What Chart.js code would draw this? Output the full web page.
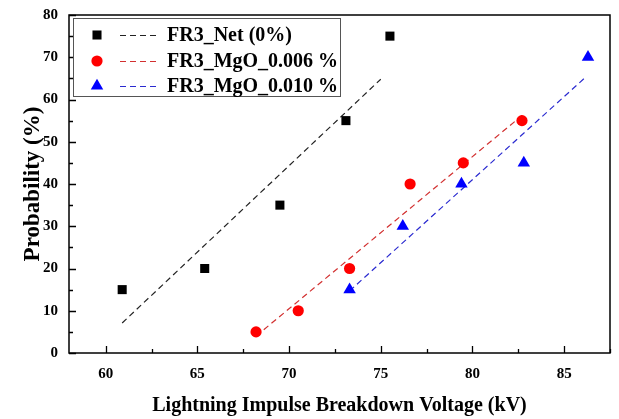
<!DOCTYPE html>
<html>
<head>
<meta charset="utf-8">
<script src="https://cdn.jsdelivr.net/npm/chart.js@4.4.0/dist/chart.umd.min.js"></script>
<style>
html,body{margin:0;padding:0;background:#fff;}
canvas{display:block;}
</style>
</head>
<body>
<canvas id="c" width="619" height="419"></canvas>
<script>
// ---- data ----
const seriesLabels = ['FR3_Net (0%)', 'FR3_MgO_0.006 %', 'FR3_MgO_0.010 %'];

const netX = [60.9, 65.4, 69.5, 73.1, 75.5];
const netY = [15, 20, 35, 55, 75];

const mgo006X = [68.2, 70.5, 73.3, 76.6, 79.5, 82.7];
const mgo006Y = [5, 10, 20, 40, 45, 55];

const mgo010X = [73.3, 76.2, 79.4, 82.8, 86.3];
const mgo010Y = [15, 30, 40, 45, 70];

// fitted dashed lines (end points)
const netFitX = [60.9, 75.0];
const netFitY = [7.1, 64.8];
const mgo006FitX = [68.2, 82.7];
const mgo006FitY = [4.0, 56.2];
const mgo010FitX = [73.3, 86.2];
const mgo010FitY = [14.7, 65.4];

const xTicks = [60, 65, 70, 75, 80, 85];
const xMinorTicks = [62.5, 67.5, 72.5, 77.5, 82.5, 87.5];
const yTicks = [0, 10, 20, 30, 40, 50, 60, 70, 80];
const yMinorTicks = [5, 15, 25, 35, 45, 55, 65, 75];

const xTitle = 'Lightning Impulse Breakdown Voltage (kV)';
const yTitle = 'Probability (%)';

// ---- build ----
const pts = (xs, ys) => xs.map((x, i) => ({x: x, y: ys[i]}));
const FONT = '"Liberation Serif", "Times New Roman", serif';

const markerColors = ['#000000', '#ff0000', '#0000ff'];
const lineColors = ['#222222', '#d23030', '#2a2ad0'];
const markerStyles = ['rect', 'circle', 'triangle'];
const markerRadius = [6.4, 5.6, 7.2];
const dash = [6, 4];

const datasets = [
  {label: seriesLabels[0], data: pts(netX, netY), pointStyle: 'rect', pointRadius: markerRadius[0], backgroundColor: markerColors[0], borderWidth: 0, pointBorderWidth: 0, showLine: false, order: 0},
  {label: seriesLabels[1], data: pts(mgo006X, mgo006Y), pointStyle: 'circle', pointRadius: markerRadius[1], backgroundColor: markerColors[1], borderWidth: 0, pointBorderWidth: 0, showLine: false, order: 0},
  {label: seriesLabels[2], data: pts(mgo010X, mgo010Y), pointStyle: 'triangle', pointRadius: markerRadius[2], backgroundColor: markerColors[2], borderWidth: 0, pointBorderWidth: 0, showLine: false, order: 0},
  {label: 'fit0', data: pts(netFitX, netFitY), showLine: true, pointRadius: 0, borderColor: lineColors[0], borderWidth: 1.2, borderDash: dash, order: 1},
  {label: 'fit1', data: pts(mgo006FitX, mgo006FitY), showLine: true, pointRadius: 0, borderColor: lineColors[1], borderWidth: 1.2, borderDash: dash, order: 1},
  {label: 'fit2', data: pts(mgo010FitX, mgo010FitY), showLine: true, pointRadius: 0, borderColor: lineColors[2], borderWidth: 1.2, borderDash: dash, order: 1}
];

const framePlugin = {
  id: 'frame',
  afterDraw(chart) {
    const {ctx, chartArea: a, scales: {x, y}} = chart;
    ctx.save();
    ctx.strokeStyle = '#000';
    ctx.lineWidth = 1.5;
    ctx.strokeRect(a.left, a.top, a.right - a.left, a.bottom - a.top);
    ctx.lineWidth = 1.3;
    ctx.beginPath();
    xTicks.forEach(v => { const p = Math.round(x.getPixelForValue(v)) + 0.5; ctx.moveTo(p, a.bottom); ctx.lineTo(p, a.bottom - 7); });
    xMinorTicks.forEach(v => { const p = Math.round(x.getPixelForValue(v)) + 0.5; ctx.moveTo(p, a.bottom); ctx.lineTo(p, a.bottom - 4); });
    yTicks.forEach(v => { const p = Math.round(y.getPixelForValue(v)) + 0.5; ctx.moveTo(a.left, p); ctx.lineTo(a.left + 7, p); });
    yMinorTicks.forEach(v => { const p = Math.round(y.getPixelForValue(v)) + 0.5; ctx.moveTo(a.left, p); ctx.lineTo(a.left + 4, p); });
    ctx.stroke();
    ctx.restore();
  }
};

const legendPlugin = {
  id: 'boxLegend',
  afterDraw(chart) {
    const ctx = chart.ctx;
    const box = {x: 73.5, y: 18.5, w: 267, h: 78};
    ctx.save();
    ctx.fillStyle = '#fff';
    ctx.fillRect(box.x, box.y, box.w, box.h);
    ctx.strokeStyle = '#555';
    ctx.lineWidth = 1;
    ctx.strokeRect(box.x, box.y, box.w, box.h);
    ctx.restore();
    const rows = [35, 61, 86];
    for (let i = 0; i < 3; i++) {
      const cy = rows[i];
      ctx.save();
      ctx.fillStyle = markerColors[i];
      ctx.strokeStyle = markerColors[i];
      ctx.lineWidth = 0;
      Chart.helpers.drawPoint(ctx, {pointStyle: markerStyles[i], radius: markerRadius[i], rotation: 0, borderWidth: 0}, 97, cy);
      ctx.setLineDash(dash);
      ctx.strokeStyle = lineColors[i];
      ctx.lineWidth = 1.2;
      ctx.beginPath();
      ctx.moveTo(120, cy + 0.5);
      ctx.lineTo(158, cy + 0.5);
      ctx.stroke();
      ctx.setLineDash([]);
      ctx.fillStyle = '#000';
      ctx.font = 'bold 20px ' + FONT;
      ctx.textBaseline = 'middle';
      ctx.textAlign = 'left';
      ctx.fillText(seriesLabels[i], 167, cy + 1);
      ctx.restore();
    }
  }
};

new Chart(document.getElementById('c'), {
  type: 'scatter',
  data: {datasets: datasets},
  options: {
    responsive: false,
    animation: false,
    layout: {padding: {left: 0, right: 9, top: 15, bottom: 0}},
    scales: {
      x: {
        type: 'linear', min: 58, max: 87.5,
        afterBuildTicks: s => { s.ticks = xTicks.map(v => ({value: v})); },
        afterFit: s => { s.height = 66; s.paddingLeft = 0; s.paddingRight = 0; },
        grid: {display: false, drawTicks: false},
        border: {display: false},
        ticks: {padding: 12, color: '#000', font: {family: FONT, size: 15, weight: 'bold'}, maxRotation: 0, autoSkip: false},
        title: {display: true, text: xTitle, color: '#000', font: {family: FONT, size: 20, weight: 'bold'}, padding: {top: 0, bottom: 1}}
      },
      y: {
        type: 'linear', min: 0, max: 80,
        afterBuildTicks: s => { s.ticks = yTicks.map(v => ({value: v})); },
        afterFit: s => { s.width = 69; s.paddingTop = 0; s.paddingBottom = 0; },
        grid: {display: false, drawTicks: false},
        border: {display: false},
        ticks: {padding: 11, color: '#000', font: {family: FONT, size: 15, weight: 'bold'}, autoSkip: false},
        title: {display: true, text: yTitle, color: '#000', font: {family: FONT, size: 23, weight: 'bold'}, padding: {top: 19, bottom: 0}}
      }
    },
    plugins: {legend: {display: false}, tooltip: {enabled: false}}
  },
  plugins: [framePlugin, legendPlugin]
});
</script>
</body>
</html>
